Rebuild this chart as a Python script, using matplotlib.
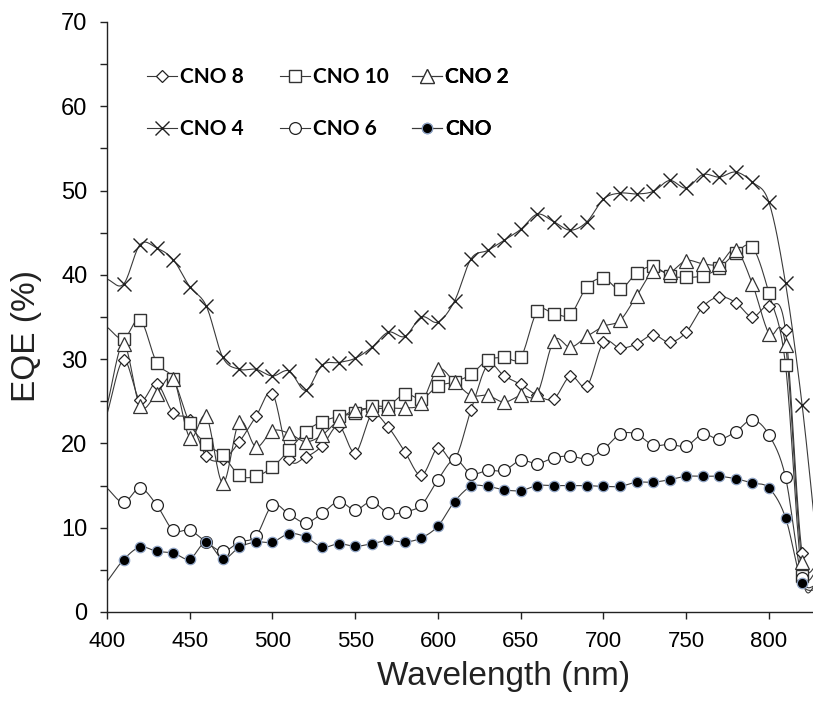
import numpy as np
import matplotlib
matplotlib.use("Agg")
import matplotlib.pyplot as plt
from matplotlib.lines import Line2D

plt.rcParams['font.family'] = ['Liberation Sans', 'DejaVu Sans']

# longueurs d'onde (nm), 400 et 830 servent seulement au tracé de la courbe
wl = list(range(400, 831, 10))

cno8 = [23.5, 29.9, 25.1, 27.1, 23.6, 22.8, 18.5, 18.1, 20.2, 23.2, 25.9, 18.2, 18.4, 19.7, 22.1,
        18.9, 23.4, 21.9, 19.0, 16.2, 19.5, 18.1, 24.0, 29.3, 28.0, 27.0, 25.7, 25.3, 28.0, 26.8,
        32.0, 31.3, 31.8, 32.9, 32.0, 33.2, 36.2, 37.4, 36.7, 35.0, 36.3, 33.4, 7.0, 5.6]
cno10 = [33.8, 32.4, 34.7, 29.6, 27.7, 22.4, 19.9, 18.6, 16.2, 16.1, 17.2, 19.2, 21.4, 22.6, 23.2,
         23.6, 24.4, 24.5, 25.9, 25.3, 26.8, 27.3, 28.2, 29.9, 30.2, 30.2, 35.7, 35.4, 35.3, 38.6,
         39.6, 38.3, 40.2, 41.0, 39.9, 39.7, 39.9, 40.8, 42.6, 43.3, 37.8, 29.3, 4.3, 3.6]
cno2 = [24.5, 31.8, 24.4, 25.9, 27.7, 20.7, 23.2, 15.3, 22.6, 19.6, 21.5, 21.2, 20.2, 21.0, 22.8,
        24.0, 24.1, 24.2, 24.2, 24.8, 28.8, 27.3, 25.7, 25.7, 24.9, 25.7, 25.9, 32.2, 31.4, 32.7,
        33.9, 34.6, 37.5, 40.4, 40.3, 41.7, 41.3, 41.3, 43.0, 38.9, 33.0, 31.7, 5.9, 5.0]
cno4 = [39.5, 38.9, 43.6, 43.2, 41.8, 38.6, 36.3, 30.2, 28.8, 28.8, 28.0, 28.6, 26.3, 29.3, 29.6,
        30.1, 31.4, 33.2, 32.7, 35.0, 34.4, 36.9, 41.9, 42.9, 44.1, 45.4, 47.2, 46.3, 45.3, 46.3,
        49.0, 49.7, 49.6, 49.9, 51.2, 50.3, 51.9, 51.6, 52.2, 51.0, 48.6, 39.0, 24.6, 6.0]
cno6 = [14.7, 13.0, 14.7, 12.7, 9.7, 9.7, 8.3, 7.2, 8.3, 9.0, 12.7, 11.6, 10.6, 11.7, 13.1,
        12.1, 13.1, 11.7, 11.9, 12.7, 15.7, 18.1, 16.4, 16.8, 16.8, 18.0, 17.6, 18.3, 18.5, 18.2,
        19.3, 21.1, 21.1, 19.8, 19.9, 19.7, 21.1, 20.5, 21.4, 22.8, 21.0, 16.0, 4.0, 3.2]
cno = [3.6, 6.2, 7.7, 7.2, 7.0, 6.3, 8.3, 6.3, 7.7, 8.3, 8.3, 9.3, 8.9, 7.7, 8.1,
       7.8, 8.1, 8.5, 8.3, 8.8, 10.2, 13.1, 14.9, 14.9, 14.5, 14.4, 15.0, 15.0, 15.0, 15.0,
       14.9, 14.9, 15.4, 15.4, 15.7, 16.1, 16.1, 16.1, 15.8, 15.3, 14.7, 11.2, 3.4, 2.6]

series = [
    ("CNO 8", cno8, dict(marker='D', ms=6.5, mfc='white', mec='#222222', mew=0.9)),
    ("CNO 10", cno10, dict(marker='s', ms=8.5, mfc='white', mec='#333333', mew=1.0)),
    ("CNO 2", cno2, dict(marker='^', ms=9.5, mfc='white', mec='#333333', mew=0.9)),
    ("CNO 4", cno4, dict(marker='x', ms=9.5, mec='#222222', mew=1.0)),
    ("CNO 6", cno6, dict(marker='o', ms=8.5, mfc='white', mec='#222222', mew=0.9)),
    ("CNO", cno, dict(marker='o', ms=7.5, mfc='black', mec='#8fa3c4', mew=0.9)),
]


def lisser(x, y, n=16):
    # spline de Hermite (Catmull-Rom), comme le lissage d'Excel
    x = np.asarray(x, float)
    y = np.asarray(y, float)
    m = np.empty_like(y)
    m[1:-1] = (y[2:] - y[:-2]) / (x[2:] - x[:-2])
    m[0] = (y[1] - y[0]) / (x[1] - x[0])
    m[-1] = (y[-1] - y[-2]) / (x[-1] - x[-2])
    xs, ys = [], []
    t = np.linspace(0, 1, n, endpoint=False)
    for i in range(len(x) - 1):
        h = x[i + 1] - x[i]
        h00 = 2 * t**3 - 3 * t**2 + 1
        h10 = t**3 - 2 * t**2 + t
        h01 = -2 * t**3 + 3 * t**2
        h11 = t**3 - t**2
        xs.append(x[i] + t * h)
        ys.append(h00 * y[i] + h10 * h * m[i] + h01 * y[i + 1] + h11 * h * m[i + 1])
    xs.append([x[-1]])
    ys.append([y[-1]])
    return np.concatenate(xs), np.concatenate(ys)


fig = plt.figure(figsize=(8.13, 7.04), dpi=100)
ax = fig.add_axes([107 / 813, 1 - 612 / 704, 1 - 107 / 813, (612 - 22) / 704])

handles = {}
for nom, vals, style in series:
    xs, ys = lisser(wl, vals)
    ax.plot(xs, ys, color='#3a3a3a', lw=0.8, zorder=2)
    ax.plot(wl[1:-1], vals[1:-1], ls='none', zorder=3, clip_on=True, **style)
    handles[nom] = Line2D([], [], color='#3a3a3a', lw=0.8, **style)

ax.set_xlim(400, 826.6)
ax.set_ylim(0, 70)
ax.set_xticks(range(400, 801, 50))
ax.set_yticks(range(0, 71, 10))
ax.set_yticks(range(5, 70, 10), minor=True)
ax.tick_params(axis='both', which='both', direction='out', length=5, width=1, color='#222222')
ax.tick_params(axis='x', labelsize=16, pad=9)
ax.tick_params(axis='y', labelsize=17, pad=9)
for s in ['top', 'right']:
    ax.spines[s].set_visible(False)
for s in ['left', 'bottom']:
    ax.spines[s].set_linewidth(1.0)
    ax.spines[s].set_color('#222222')

fig.text(27 / 813, 1 - 336 / 704, "EQE (%)", rotation=90, ha='center', va='center', fontsize=24,
         color='#222222')
fig.text(504 / 813, 1 - 676 / 704, "Wavelength (nm)", ha='center', va='center', fontsize=24,
         color='#222222')

# légende en trois colonnes placées à la main
colonnes = [("CNO 8", "CNO 4", 147), ("CNO 10", "CNO 6", 280), ("CNO 2", "CNO", 412)]
for haut, bas, xpix in colonnes:
    leg = ax.legend([handles[haut], handles[bas]], [haut, bas], loc='upper left',
                    bbox_to_anchor=(xpix / 813, 1 - 67 / 704), bbox_transform=fig.transFigure,
                    frameon=False, borderpad=0, borderaxespad=0, handlelength=1.45,
                    handletextpad=0.15, labelspacing=1.55,
                    prop=dict(family='Lato', weight='bold', size=15))
    ax.add_artist(leg)

fig.savefig("out.png", dpi=100)
